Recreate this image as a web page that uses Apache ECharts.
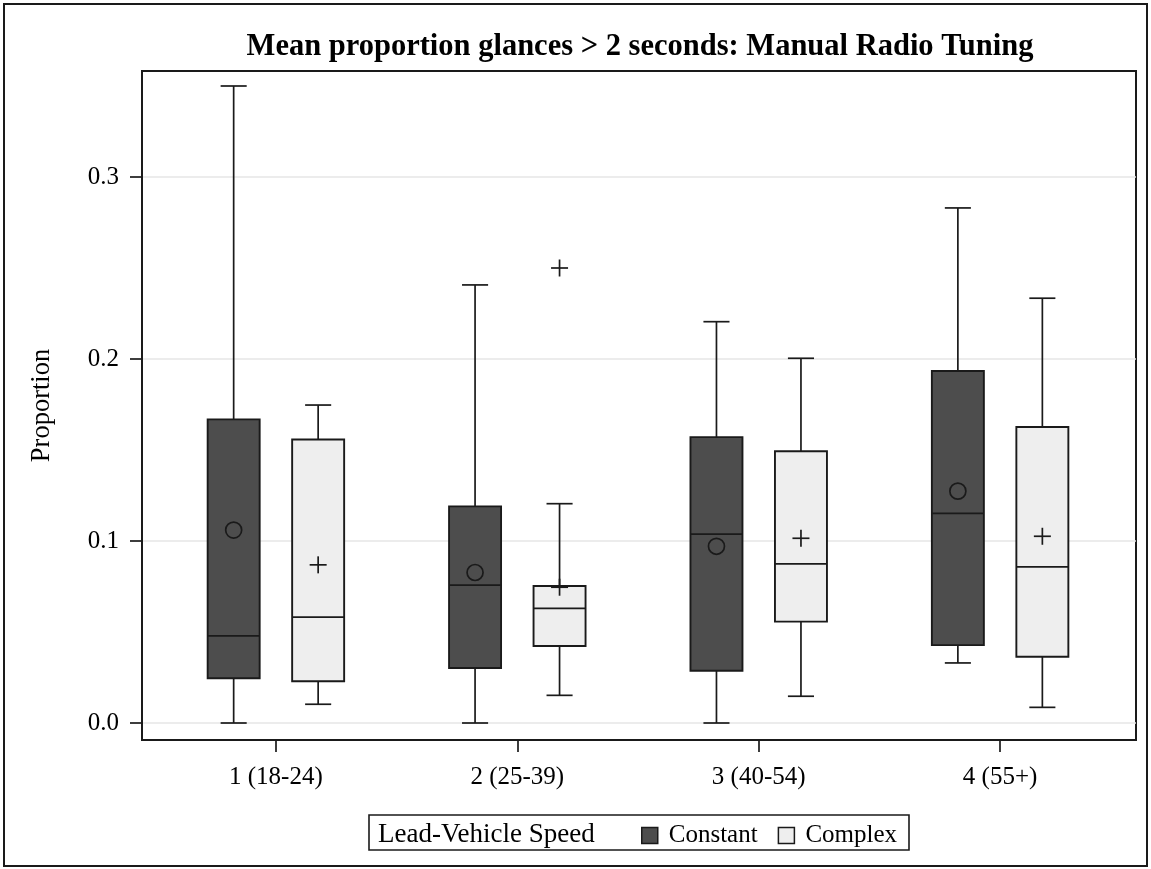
<!DOCTYPE html>
<html>
<head>
<meta charset="utf-8">
<title>Mean proportion glances &gt; 2 seconds: Manual Radio Tuning</title>
<script src="https://cdn.jsdelivr.net/npm/echarts@6/dist/echarts.min.js"></script>
<style>
  html, body { margin: 0; padding: 0; background: #ffffff; }
  #chart { width: 1151px; height: 869px; }
</style>
</head>
<body>
<div id="chart"></div>
<script>
// Age groups along the horizontal axis
const categories = ['1 (18-24)', '2 (25-39)', '3 (40-54)', '4 (55+)'];
const yTicks = [0, 0.1, 0.2, 0.3];

// Lead-vehicle speed: Constant
const constantMin    = [0.000, 0.000, 0.000, 0.033];
const constantQ1     = [0.0246, 0.0302, 0.0287, 0.0428];
const constantMedian = [0.0479, 0.0758, 0.1038, 0.1152];
const constantQ3     = [0.1668, 0.1190, 0.1571, 0.1934];
const constantMax    = [0.350, 0.2407, 0.2205, 0.283];
const constantMean   = [0.106, 0.0827, 0.0971, 0.1274];

// Lead-vehicle speed: Complex
const complexMin    = [0.0103, 0.0152, 0.0147, 0.0086];
const complexQ1     = [0.0229, 0.0423, 0.0557, 0.0364];
const complexMedian = [0.0582, 0.0630, 0.0874, 0.0858];
const complexQ3     = [0.1558, 0.0753, 0.1493, 0.1626];
const complexMax    = [0.1747, 0.1205, 0.2004, 0.2334];
const complexMean   = [0.0869, 0.0746, 0.1015, 0.1026];

// Outliers beyond the whiskers: [group index, value]
const complexOutliers = [[1, 0.25]];

const FONT = "'Liberation Serif', 'Times New Roman', serif";
const INK = '#1a1a1a';
const DARK_FILL = '#4d4d4d';
const LIGHT_FILL = '#eeeeee';

// Box geometry as fractions of one category step
const BOX_OFFSET = 0.175;
const BOX_HALF = 0.1077;
const CAP_HALF = 0.054;
const MARK_SIZE = 8.5;

function rows(mins, q1s, meds, q3s, maxs, means) {
  return categories.map((c, i) => [i, mins[i], q1s[i], meds[i], q3s[i], maxs[i], means[i]]);
}

function meanMarker(kind, x, y) {
  const style = { stroke: INK, lineWidth: 1.7, fill: null };
  if (kind === 'circle') {
    return { type: 'circle', shape: { cx: x, cy: y, r: 8 }, style: style, z2: 5 };
  }
  return plusMarker(x, y, style);
}

function plusMarker(x, y, style) {
  return {
    type: 'group',
    children: [
      { type: 'line', shape: { x1: x - MARK_SIZE, y1: y, x2: x + MARK_SIZE, y2: y }, style: style, z2: 5 },
      { type: 'line', shape: { x1: x, y1: y - MARK_SIZE, x2: x, y2: y + MARK_SIZE }, style: style, z2: 5 }
    ]
  };
}

function boxRenderer(side, fill, markKind) {
  return function (params, api) {
    const idx = api.value(0);
    const unit = api.size([1, 0])[0];
    const cx = api.coord([idx, 0])[0] + side * BOX_OFFSET * unit;
    const py = k => api.coord([idx, api.value(k)])[1];
    const yMin = py(1), yQ1 = py(2), yMed = py(3), yQ3 = py(4), yMax = py(5), yMean = py(6);
    const half = BOX_HALF * unit, cap = CAP_HALF * unit;
    const line = { stroke: INK, lineWidth: 1.7 };
    return {
      type: 'group',
      children: [
        { type: 'line', shape: { x1: cx, y1: yQ3, x2: cx, y2: yMax }, style: line },
        { type: 'line', shape: { x1: cx, y1: yQ1, x2: cx, y2: yMin }, style: line },
        { type: 'line', shape: { x1: cx - cap, y1: yMax, x2: cx + cap, y2: yMax }, style: line },
        { type: 'line', shape: { x1: cx - cap, y1: yMin, x2: cx + cap, y2: yMin }, style: line },
        { type: 'rect', shape: { x: cx - half, y: yQ3, width: 2 * half, height: yQ1 - yQ3 },
          style: { fill: fill, stroke: INK, lineWidth: 1.9 } },
        { type: 'line', shape: { x1: cx - half, y1: yMed, x2: cx + half, y2: yMed }, style: line, z2: 3 },
        meanMarker(markKind, cx, yMean)
      ]
    };
  };
}

function outlierRenderer(side) {
  return function (params, api) {
    const idx = api.value(0);
    const unit = api.size([1, 0])[0];
    const p = api.coord([idx, api.value(1)]);
    return plusMarker(p[0] + side * BOX_OFFSET * unit, p[1], { stroke: INK, lineWidth: 1.7 });
  };
}

const chart = echarts.init(document.getElementById('chart'), null, { renderer: 'canvas' });

const option = {
  backgroundColor: '#ffffff',
  animation: false,
  title: {
    text: 'Mean proportion glances > 2 seconds: Manual Radio Tuning',
    left: 635,
    top: 27,
    textAlign: 'center',
    textStyle: { fontFamily: FONT, fontWeight: 'bold', fontSize: 30.5, color: '#000' }
  },
  grid: {
    left: 142, right: 15, top: 71, bottom: 129,
    show: true, borderColor: INK, borderWidth: 2, backgroundColor: 'transparent'
  },
  xAxis: {
    type: 'value',
    min: -0.5547,
    max: 3.5629,
    axisLine: { show: true, onZero: false, lineStyle: { color: INK, width: 2 } },
    axisTick: { show: true, length: 12, customValues: [0, 1, 2, 3], lineStyle: { color: INK, width: 1.7 } },
    axisLabel: {
      customValues: [0, 1, 2, 3],
      formatter: v => categories[Math.round(v)],
      fontFamily: FONT, fontSize: 25, color: '#000', margin: 25
    },
    splitLine: { show: false }
  },
  yAxis: {
    type: 'value',
    min: -0.00934,
    max: 0.35824,
    name: 'Proportion',
    nameLocation: 'middle',
    nameGap: 86,
    nameTextStyle: { fontFamily: FONT, fontSize: 26.5, color: '#000' },
    axisLine: { show: true, onZero: false, lineStyle: { color: INK, width: 2 } },
    axisTick: { show: true, length: 12, customValues: yTicks, lineStyle: { color: INK, width: 1.7 } },
    axisLabel: {
      customValues: yTicks,
      formatter: v => v.toFixed(1),
      fontFamily: FONT, fontSize: 25, color: '#000', margin: 23
    },
    splitLine: { show: true, lineStyle: { color: '#e6e6e6', width: 1.6 } }
  },
  legend: {
    data: [
      { name: 'Constant', itemStyle: { color: DARK_FILL, borderColor: INK, borderWidth: 1.5 } },
      { name: 'Complex', itemStyle: { color: LIGHT_FILL, borderColor: INK, borderWidth: 1.5 } }
    ],
    icon: 'rect',
    itemWidth: 16,
    itemHeight: 16,
    itemGap: 20,
    left: 636,
    top: 818,
    textStyle: { fontFamily: FONT, fontSize: 25, color: '#000', padding: [0, 0, 0, 6] }
  },
  graphic: [
    { type: 'rect', shape: { x: 4, y: 4, width: 1143, height: 862 },
      style: { fill: null, stroke: INK, lineWidth: 2 }, silent: true },
    { type: 'rect', shape: { x: 369, y: 815, width: 540, height: 35 },
      style: { fill: null, stroke: INK, lineWidth: 1.6 }, silent: true },
    { type: 'text', x: 378, y: 834.5,
      style: { text: 'Lead-Vehicle Speed', font: "27px 'Liberation Serif', 'Times New Roman', serif",
               fill: '#000', verticalAlign: 'middle' }, silent: true }
  ],
  series: [
    {
      name: 'Constant',
      type: 'custom',
      itemStyle: { color: DARK_FILL },
      renderItem: boxRenderer(-1, DARK_FILL, 'circle'),
      encode: { x: 0, y: [1, 2, 3, 4, 5, 6] },
      data: rows(constantMin, constantQ1, constantMedian, constantQ3, constantMax, constantMean),
      z: 3
    },
    {
      name: 'Complex',
      type: 'custom',
      itemStyle: { color: LIGHT_FILL },
      renderItem: boxRenderer(1, LIGHT_FILL, 'plus'),
      encode: { x: 0, y: [1, 2, 3, 4, 5, 6] },
      data: rows(complexMin, complexQ1, complexMedian, complexQ3, complexMax, complexMean),
      z: 3
    },
    {
      name: 'Complex outliers',
      type: 'custom',
      renderItem: outlierRenderer(1),
      encode: { x: 0, y: 1 },
      data: complexOutliers,
      z: 4
    }
  ]
};

chart.setOption(option);
</script>
</body>
</html>
